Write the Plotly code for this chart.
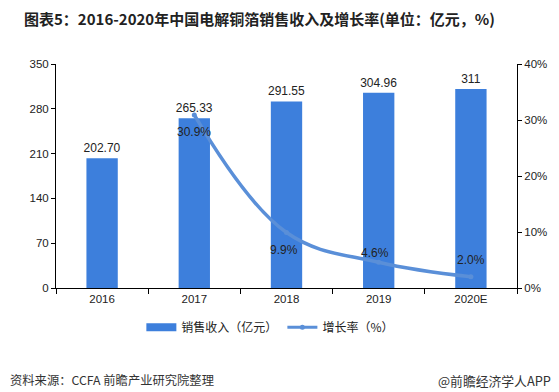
import plotly.graph_objects as go

categories = ["2016", "2017", "2018", "2019", "2020E"]
revenue = [202.70, 265.33, 291.55, 304.96, 311]
revenue_labels = ["202.70", "265.33", "291.55", "304.96", "311"]
growth_cats = ["2017", "2018", "2019", "2020E"]
growth = [30.9, 9.9, 4.6, 2.0]
growth_labels = ["30.9%", "9.9%", "4.6%", "2.0%"]
left_ticks = [0, 70, 140, 210, 280, 350]
right_ticks = [0, 10, 20, 30, 40]

FONT = "Noto Sans CJK SC, Liberation Sans, sans-serif"
NUMFONT = "Liberation Sans, sans-serif"
BAR_COLOR = "#3d7fdc"
LINE_COLOR = "#5a8fd8"

fig = go.Figure()
fig.add_trace(go.Bar(
    x=categories, y=revenue, name="销售收入（亿元）", showlegend=False,
    marker=dict(color=BAR_COLOR, line=dict(width=0)),
    text=revenue_labels, textposition="outside", cliponaxis=False,
    constraintext="none",
    textfont=dict(size=12, color="#222", family=NUMFONT),
))
fig.add_trace(go.Scatter(
    x=growth_cats, y=growth, name="增长率（%）", yaxis="y2", showlegend=False,
    mode="lines+markers",
    line=dict(color=LINE_COLOR, width=3.5, shape="spline", smoothing=1.1),
    marker=dict(size=5, color=LINE_COLOR),
    cliponaxis=False,
))
# legend entries
fig.add_trace(go.Scatter(
    x=[categories[0]], y=[None], name="销售收入（亿元）", mode="lines",
    line=dict(color=BAR_COLOR, width=8),
))
fig.add_trace(go.Scatter(
    x=[categories[0]], y=[None], name="增长率（%）", mode="lines+markers", yaxis="y2",
    line=dict(color=LINE_COLOR, width=3), marker=dict(size=5, color=LINE_COLOR),
))

label_shifts = [(0, -17), (-3, -17), (-4, 9), (0, 17)]
for c, v, t, (dx, dy) in zip(growth_cats, growth, growth_labels, label_shifts):
    fig.add_annotation(x=categories.index(c), y=v, xref="x", yref="y2", text=t,
                       showarrow=False, xshift=dx, yshift=dy,
                       font=dict(size=12, color="#222", family=NUMFONT))

fig.update_layout(
    width=559, height=392,
    margin=dict(l=56, r=42, t=64, b=104),
    paper_bgcolor="white", plot_bgcolor="white",
    font=dict(family=FONT, size=11, color="#333"),
    bargap=0.66,
    showlegend=True,
    legend=dict(orientation="h", x=0.465, xanchor="center", y=-0.175, yanchor="middle",
                font=dict(size=12, color="#222", family=FONT), itemwidth=30,
                traceorder="normal"),
    xaxis=dict(type="category", categoryorder="array", categoryarray=categories,
               range=[-0.5, len(categories) - 0.5],
               showline=True, linecolor="#000", linewidth=1, ticks="outside",
               tickson="boundaries", ticklen=5, tickcolor="#000", tickangle=0,
               tickfont=dict(size=11.5, color="#222", family=NUMFONT),
               showgrid=False),
    yaxis=dict(range=[0, 350], tickvals=left_ticks, showline=True, linecolor="#000",
               linewidth=1, ticks="outside", ticklen=4, tickcolor="#000",
               showgrid=False, zeroline=False,
               tickfont=dict(size=11.5, color="#222", family=NUMFONT)),
    yaxis2=dict(range=[0, 40], tickvals=right_ticks, ticktext=[f"{v}%" for v in right_ticks],
                overlaying="y", side="right", showline=True, linecolor="#000",
                linewidth=1, ticks="outside", ticklen=4, tickcolor="#000",
                showgrid=False, zeroline=False,
                tickfont=dict(size=11.5, color="#222", family=NUMFONT)),
    title=dict(text="<b>图表5：2016-2020年中国电解铜箔销售收入及增长率(单位：亿元，%)</b>",
               x=24/559, xanchor="left", y=1 - 20/392, yanchor="middle",
               font=dict(size=15, color="#222", family=FONT)),
)
fig.update_layout(title_xref="container", title_yref="container")

fig.add_annotation(text="资料来源：CCFA 前瞻产业研究院整理", xref="paper", yref="paper",
                   x=-48/461, xanchor="left", y=-(380-288)/224, yanchor="middle",
                   showarrow=False, font=dict(size=12.3, color="#333", family=FONT))
fig.add_annotation(text="@前瞻经济学人APP", xref="paper", yref="paper",
                   x=(553-56)/461, xanchor="right", y=-(380-288)/224, yanchor="middle",
                   showarrow=False, font=dict(size=12.8, color="#333", family=FONT))

fig.write_html("out.html", config={"displayModeBar": False},
               post_script="document.body.style.margin='0';document.body.style.overflow='hidden';")
